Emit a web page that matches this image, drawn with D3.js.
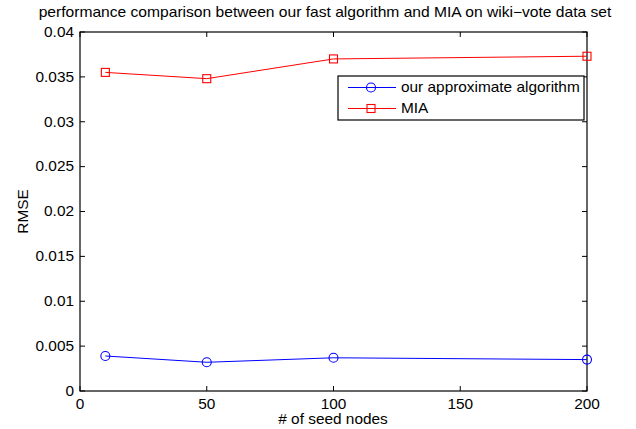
<!DOCTYPE html>
<html>
<head>
<meta charset="utf-8">
<script src="https://cdn.jsdelivr.net/npm/d3@7"></script>
<style>
  html, body { margin: 0; padding: 0; background: #fff; }
  svg { display: block; }
  text { font-family: "Liberation Sans", Arial, Helvetica, sans-serif; fill: #000; }
</style>
</head>
<body>
<svg id="chart" width="636" height="429"></svg>
<script>
// Data
const seedNodes = [10, 50, 100, 200];
const ourApprox = [0.0039, 0.0032, 0.0037, 0.0035];
const mia = [0.0355, 0.0348, 0.0370, 0.0373];
const xTicks = [0, 50, 100, 150, 200];
const yTicks = [0, 0.005, 0.01, 0.015, 0.02, 0.025, 0.03, 0.035, 0.04];
const yTickLabels = ["0", "0.005", "0.01", "0.015", "0.02", "0.025", "0.03", "0.035", "0.04"];
const seriesNames = ["our approximate algorithm", "MIA"];
const titleText = "performance comparison between our fast algorithm and MIA on wiki\u2212vote data set";
const xLabelText = "# of seed nodes";
const yLabelText = "RMSE";

const svg = d3.select("#chart");
const plot = { left: 80, right: 587, top: 32, bottom: 391 };
const FS = 14;        // base font size
const SX = 1.1;       // horizontal text stretch of the figure

const x = d3.scaleLinear().domain([0, 200]).range([plot.left, plot.right]);
const y = d3.scaleLinear().domain([0, 0.04]).range([plot.bottom, plot.top]);

// Text helper: places text at (tx, ty) with a horizontal stretch
function addText(g, tx, ty, str, anchor, size, rotate) {
  return g.append("text")
    .attr("transform", `translate(${tx},${ty})` + (rotate ? ` rotate(${rotate})` : "") + ` scale(${SX},1)`)
    .attr("text-anchor", anchor)
    .attr("dominant-baseline", "central")
    .style("font-size", size + "px")
    .text(str);
}

// Axes box
const axes = svg.append("g");
axes.append("rect")
  .attr("x", plot.left).attr("y", plot.top)
  .attr("width", plot.right - plot.left).attr("height", plot.bottom - plot.top)
  .attr("fill", "#fff").attr("stroke", "#000").attr("stroke-width", 1.2);

// Inward ticks on all four sides
const tl = 5;
const tickG = axes.append("g").attr("stroke", "#000").attr("stroke-width", 1);
xTicks.forEach(v => {
  tickG.append("line").attr("x1", x(v)).attr("x2", x(v)).attr("y1", plot.bottom).attr("y2", plot.bottom - tl);
  tickG.append("line").attr("x1", x(v)).attr("x2", x(v)).attr("y1", plot.top).attr("y2", plot.top + tl);
});
yTicks.forEach(v => {
  tickG.append("line").attr("y1", y(v)).attr("y2", y(v)).attr("x1", plot.left).attr("x2", plot.left + tl);
  tickG.append("line").attr("y1", y(v)).attr("y2", y(v)).attr("x1", plot.right).attr("x2", plot.right - tl);
});

// Tick labels
const labels = svg.append("g");
xTicks.forEach(v => addText(labels, x(v), plot.bottom + 13, String(v), "middle", FS));
yTicks.forEach((v, i) => addText(labels, plot.left - 6, y(v), yTickLabels[i], "end", FS));

// Series
const series = [
  { name: seriesNames[0], values: ourApprox, color: "#0000ff", marker: "circle" },
  { name: seriesNames[1], values: mia, color: "#ff0000", marker: "square" }
];
const line = d3.line().x(d => x(d[0])).y(d => y(d[1]));

function drawMarker(g, cx, cy, type, color) {
  if (type === "circle") {
    g.append("circle").attr("cx", cx).attr("cy", cy).attr("r", 4.5)
      .attr("fill", "none").attr("stroke", color).attr("stroke-width", 1.1);
  } else {
    g.append("rect").attr("x", cx - 4).attr("y", cy - 4).attr("width", 8).attr("height", 8)
      .attr("fill", "none").attr("stroke", color).attr("stroke-width", 1.1);
  }
}

const marks = svg.append("g");
series.forEach(s => {
  const pts = seedNodes.map((n, i) => [n, s.values[i]]);
  marks.append("path").datum(pts).attr("d", line)
    .attr("fill", "none").attr("stroke", s.color).attr("stroke-width", 1);
  pts.forEach(p => drawMarker(marks, x(p[0]), y(p[1]), s.marker, s.color));
});

// Legend
const leg = svg.append("g");
const lg = { x: 338, y: 76, w: 246, h: 44 };
leg.append("rect").attr("x", lg.x).attr("y", lg.y).attr("width", lg.w).attr("height", lg.h)
  .attr("fill", "#fff").attr("stroke", "#000").attr("stroke-width", 1.2);
series.forEach((s, i) => {
  const ry = lg.y + 11.5 + i * 21;
  leg.append("line").attr("x1", lg.x + 10).attr("x2", lg.x + 58).attr("y1", ry).attr("y2", ry)
    .attr("stroke", s.color).attr("stroke-width", 1);
  drawMarker(leg, lg.x + 33, ry, s.marker, s.color);
  addText(leg, lg.x + 63, ry, s.name, "start", FS);
});

// Titles
addText(svg, 325, 12, titleText, "middle", 14.2);
addText(svg, 333, 419, xLabelText, "middle", FS);
addText(svg, 23, (plot.top + plot.bottom) / 2, yLabelText, "middle", FS, -90);
</script>
</body>
</html>
